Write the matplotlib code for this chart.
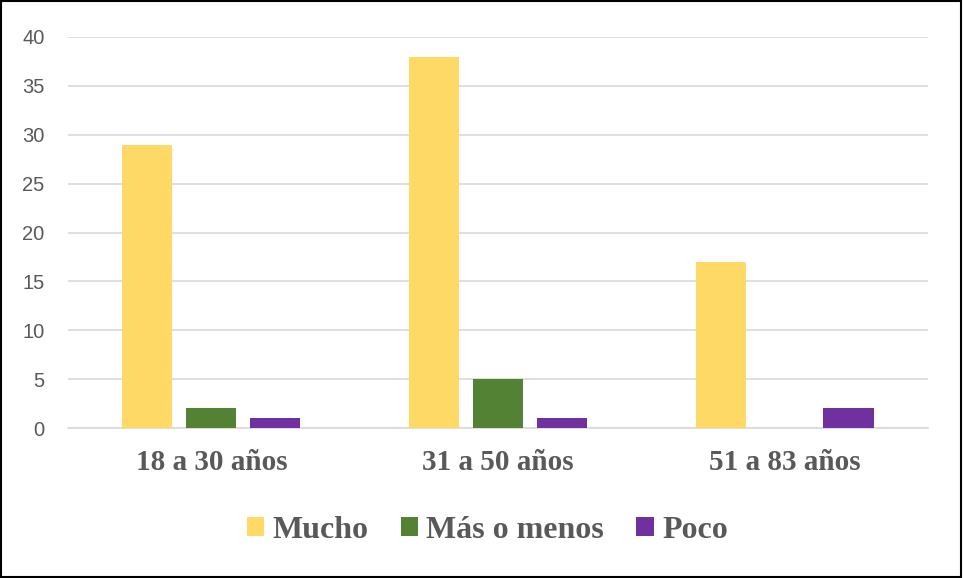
import numpy as np
import matplotlib.pyplot as plt
from matplotlib.patches import Rectangle

grupos = ['18 a 30 años', '31 a 50 años', '51 a 83 años']
series = ['Mucho', 'Más o menos', 'Poco']
mucho = [29, 38, 17]
mas_o_menos = [2, 5, 0]
poco = [1, 1, 2]
colores = ['#FFD966', '#548235', '#7030A0']

fig = plt.figure(figsize=(9.63, 5.78), dpi=100)
ax = fig.add_axes([0.0706, 0.2595, 0.893, 0.6765])

x = np.arange(len(grupos))
ancho = 0.175
sep = 0.223
for i, (vals, nombre) in enumerate(zip([mucho, mas_o_menos, poco], series)):
    ax.bar(x + (i - 1) * sep, vals, ancho, color=colores[i], label=nombre, zorder=3)

ax.set_xlim(-0.5, 2.5)
ax.set_ylim(0, 40)
ax.set_yticks(range(0, 41, 5))
ax.yaxis.grid(True, color='#D9D9D9', linewidth=1.2, zorder=0)
for s in ['top', 'right', 'left']:
    ax.spines[s].set_visible(False)
ax.spines['bottom'].set_color('#D9D9D9')
ax.spines['bottom'].set_linewidth(1.2)
ax.tick_params(axis='both', length=0)
ax.tick_params(axis='y', labelsize=14.5, labelcolor='#595959', pad=17)
for t in ax.get_yticklabels():
    t.set_fontfamily('Liberation Sans')

ax.set_xticks(x)
ax.set_xticklabels(grupos, fontfamily='Liberation Serif', fontweight='bold',
                   fontsize=21, color='#595959')
ax.tick_params(axis='x', pad=15)

leg = fig.legend(loc='center', bbox_to_anchor=(0.506, 0.083), ncol=3, frameon=False,
                 prop={'family': 'Liberation Serif', 'weight': 'bold', 'size': 23},
                 handlelength=0.55, handleheight=0.55, handletextpad=0.26, columnspacing=1.0)
for t in leg.get_texts():
    t.set_color('#595959')

fig.patches.append(Rectangle((0.001, 0.002), 0.997, 0.996, transform=fig.transFigure,
                             fill=False, edgecolor='black', linewidth=1.5))

fig.savefig('out.png', dpi=100)
